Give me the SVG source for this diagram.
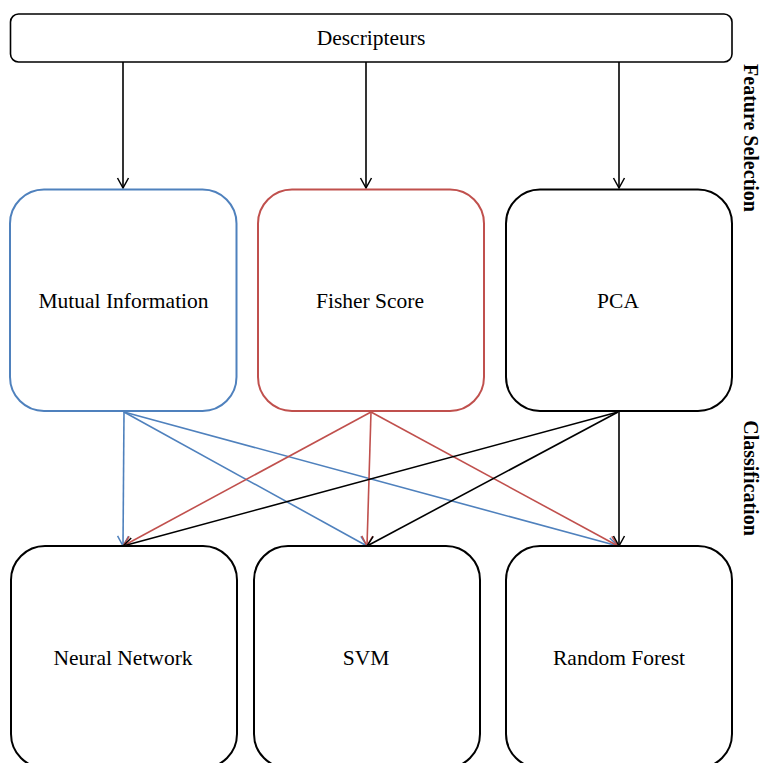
<svg xmlns="http://www.w3.org/2000/svg" width="762" height="763" viewBox="0 0 762 763">
<style>
.box{fill:#fff;stroke-width:2}
.k{stroke:#000}
.b{stroke:#4F81BD}
.r{stroke:#C0504D}
.lbl{font-family:"Liberation Serif","Times New Roman",serif;font-size:21.5px;fill:#000;text-anchor:middle}
.side{font-family:"Liberation Serif","Times New Roman",serif;font-size:20px;font-weight:bold;fill:#000;text-anchor:middle}
.c{fill:none;stroke-width:1.6}
</style>
<defs>
<marker id="ak" markerUnits="userSpaceOnUse" markerWidth="14" markerHeight="14" viewBox="-12 -7 14 14" refX="0" refY="0" orient="auto"><path d="M-10,-5.5 L0,0 L-10,5.5" fill="none" stroke="#000" stroke-width="1.5"/></marker>
<marker id="ab" markerUnits="userSpaceOnUse" markerWidth="14" markerHeight="14" viewBox="-12 -7 14 14" refX="0" refY="0" orient="auto"><path d="M-10,-5.5 L0,0 L-10,5.5" fill="none" stroke="#4F81BD" stroke-width="1.5"/></marker>
<marker id="ar" markerUnits="userSpaceOnUse" markerWidth="14" markerHeight="14" viewBox="-12 -7 14 14" refX="0" refY="0" orient="auto"><path d="M-10,-5.5 L0,0 L-10,5.5" fill="none" stroke="#C0504D" stroke-width="1.5"/></marker>
</defs>
<rect width="762" height="763" fill="#fff"/>
<g id="descripteurs">
<rect x="10.5" y="14" width="721.5" height="48" rx="8" fill="#fff" stroke="#000" stroke-width="1.6"/>
<text class="lbl" x="371" y="45">Descripteurs</text>
</g>
<g id="connectors">
<line class="c k" x1="123" y1="62" x2="123" y2="188" marker-end="url(#ak)"/>
<line class="c k" x1="366" y1="62" x2="366" y2="188" marker-end="url(#ak)"/>
<line class="c k" x1="619" y1="62" x2="619" y2="188" marker-end="url(#ak)"/>
<line class="c b" x1="124" y1="412" x2="123" y2="546" marker-end="url(#ab)"/>
<line class="c b" x1="124" y1="412" x2="367" y2="546" marker-end="url(#ab)"/>
<line class="c b" x1="124" y1="412" x2="618" y2="546" marker-end="url(#ab)"/>
<line class="c r" x1="371" y1="412" x2="123" y2="546" marker-end="url(#ar)"/>
<line class="c r" x1="371" y1="412" x2="367" y2="546" marker-end="url(#ar)"/>
<line class="c r" x1="371" y1="412" x2="618" y2="546" marker-end="url(#ar)"/>
<line class="c k" x1="618" y1="412" x2="123" y2="546" marker-end="url(#ak)"/>
<line class="c k" x1="618" y1="412" x2="367" y2="546" marker-end="url(#ak)"/>
<line class="c k" x1="619" y1="412" x2="619" y2="546" marker-end="url(#ak)"/>
</g>
<g id="mutual-information">
<rect class="box b" x="10" y="189.5" width="226.5" height="221.5" rx="34"/>
<text class="lbl" x="123.5" y="308">Mutual Information</text>
</g>
<g id="fisher-score">
<rect class="box r" x="258" y="189.5" width="226" height="221.5" rx="34"/>
<text class="lbl" x="370" y="308">Fisher Score</text>
</g>
<g id="pca">
<rect class="box k" x="506" y="189.5" width="226" height="221.5" rx="34"/>
<text class="lbl" x="618" y="308">PCA</text>
</g>
<g id="neural-network">
<rect class="box k" x="11" y="546" width="226" height="222" rx="34"/>
<text class="lbl" x="123" y="665">Neural Network</text>
</g>
<g id="svm">
<rect class="box k" x="254" y="546" width="226" height="222" rx="34"/>
<text class="lbl" x="366" y="665">SVM</text>
</g>
<g id="random-forest">
<rect class="box k" x="506" y="546" width="226" height="222" rx="34"/>
<text class="lbl" x="619" y="665">Random Forest</text>
</g>
<g id="side-labels">
<text class="side" transform="translate(744 138) rotate(90)">Feature Selection</text>
<text class="side" transform="translate(744 478) rotate(90)">Classification</text>
</g>
</svg>
